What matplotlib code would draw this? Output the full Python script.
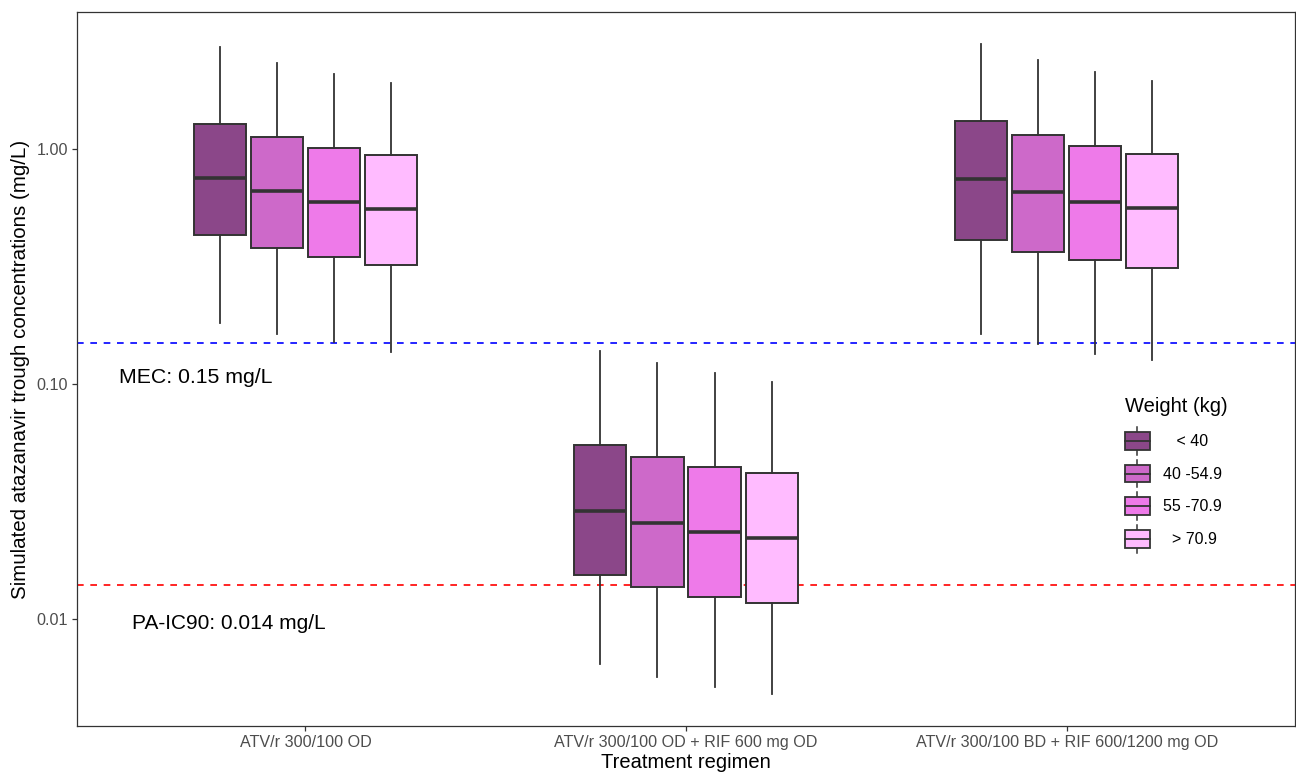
import matplotlib
matplotlib.use('Agg')
import matplotlib.pyplot as plt
from matplotlib.legend_handler import HandlerBase
from matplotlib.patches import Rectangle, Patch
from matplotlib.lines import Line2D
import numpy as np

plt.rcParams['font.family'] = ['Liberation Sans', 'DejaVu Sans']

regimenes = ['ATV/r 300/100 OD', 'ATV/r 300/100 OD + RIF 600 mg OD',
             'ATV/r 300/100 BD + RIF 600/1200 mg OD']
pesos = ['   < 40', '40 -54.9', '55 -70.9', '  > 70.9']
colores = ['#8B4789', '#CD69C9', '#EE7AE9', '#FFBBFF']

# una fila por regimen, una columna por grupo de peso (mg/L)
medianas = [[0.755, 0.663, 0.597, 0.558],
            [0.0290, 0.0257, 0.0235, 0.0221],
            [0.748, 0.659, 0.597, 0.563]]
q1 = [[0.431, 0.379, 0.346, 0.322],
      [0.0154, 0.0137, 0.0125, 0.0117],
      [0.411, 0.366, 0.337, 0.313]]
q3 = [[1.281, 1.128, 1.013, 0.940],
      [0.0552, 0.0489, 0.0443, 0.0420],
      [1.315, 1.144, 1.030, 0.955]]
bigote_bajo = [[0.183, 0.163, 0.151, 0.137],
               [0.00648, 0.00569, 0.00516, 0.00484],
               [0.164, 0.148, 0.135, 0.127]]
bigote_alto = [[2.72, 2.325, 2.088, 1.912],
               [0.1388, 0.123, 0.1116, 0.1018],
               [2.784, 2.380, 2.129, 1.944]]

mec = 0.15
ic90 = 0.014

gris = '#333333'


class CajaLeyenda(HandlerBase):
    def create_artists(self, legend, orig_handle, xdescent, ydescent,
                       width, height, fontsize, trans):
        c = orig_handle.get_facecolor()
        alto = height * 0.63
        y0 = (height - alto) / 2 - ydescent
        x0 = -xdescent
        caja = Rectangle((x0, y0), width, alto, facecolor=c,
                         edgecolor=gris, lw=1.3, transform=trans)
        med = Line2D([x0, x0 + width], [y0 + alto / 2] * 2, color=gris,
                     lw=1.3, transform=trans)
        xm = x0 + width / 2
        b1 = Line2D([xm, xm], [-ydescent, y0], color=gris, lw=1.1,
                    transform=trans)
        b2 = Line2D([xm, xm], [y0 + alto, height - ydescent], color=gris,
                    lw=1.1, transform=trans)
        return [b1, b2, caja, med]


fig = plt.figure(figsize=(12.96, 7.75), dpi=100)
ax = fig.add_axes([77 / 1296, 1 - 726 / 775, 1218 / 1296, 714 / 775])
ax.set_yscale('log')

ancho_dodge = 0.15
for i in range(len(regimenes)):
    for j in range(len(pesos)):
        st = [dict(med=medianas[i][j], q1=q1[i][j], q3=q3[i][j],
                   whislo=bigote_bajo[i][j], whishi=bigote_alto[i][j],
                   fliers=[])]
        pos = i + (j - 1.5) * ancho_dodge
        ax.bxp(st, positions=[pos], widths=0.137, patch_artist=True,
               showcaps=False, showfliers=False,
               boxprops=dict(facecolor=colores[j], edgecolor=gris, lw=1.4),
               medianprops=dict(color=gris, lw=2.6, solid_capstyle='butt'),
               whiskerprops=dict(color=gris, lw=1.3), manage_ticks=False)

ax.axhline(mec, color='blue', ls=(0, (4, 4)), lw=1.2, zorder=0.5)
ax.axhline(ic90, color='red', ls=(0, (4, 4)), lw=1.2, zorder=0.5)
ax.text(-0.287, 0.1066, 'MEC: 0.15 mg/L', ha='center', va='center',
        fontsize=15.3)
ax.text(-0.2, 0.0096, 'PA-IC90: 0.014 mg/L', ha='center', va='center',
        fontsize=15)

todos = np.log10(np.array(bigote_bajo + bigote_alto))
lo, hi = todos.min(), todos.max()
r = hi - lo
ax.set_ylim(10 ** (lo - 0.05 * r), 10 ** (hi + 0.05 * r))
ax.set_xlim(-0.6, 2.6)

ax.set_xticks(range(len(regimenes)))
ax.set_xticklabels(regimenes)
ax.set_yticks([0.01, 0.1, 1.0])
ax.set_yticklabels(['0.01', '0.10', '1.00'])
ax.minorticks_off()
ax.tick_params(axis='both', labelsize=11.6, colors=gris, labelcolor='#4D4D4D',
               length=3.5, width=0.9, pad=3)
for s in ax.spines.values():
    s.set_color(gris)
    s.set_linewidth(0.9)

ax.set_xlabel('Treatment regimen', fontsize=14.5, labelpad=2)
ax.set_ylabel('Simulated atazanavir trough concentrations (mg/L)',
              fontsize=14.8, labelpad=5)

handles = [Patch(facecolor=c) for c in colores]
leg = ax.legend(handles, pesos, title='Weight (kg)', loc='upper left',
                bbox_to_anchor=(1125 / 1296, 1 - 397 / 775),
                bbox_transform=fig.transFigure, frameon=False,
                fontsize=11.5, title_fontsize=14.5, alignment='left',
                handler_map={Patch: CajaLeyenda()}, handlelength=1.55,
                handleheight=2.3, labelspacing=0.3, handletextpad=0.8,
                borderpad=0, borderaxespad=0)
leg._legend_box.sep = 8

fig.savefig('out.png', dpi=100)
